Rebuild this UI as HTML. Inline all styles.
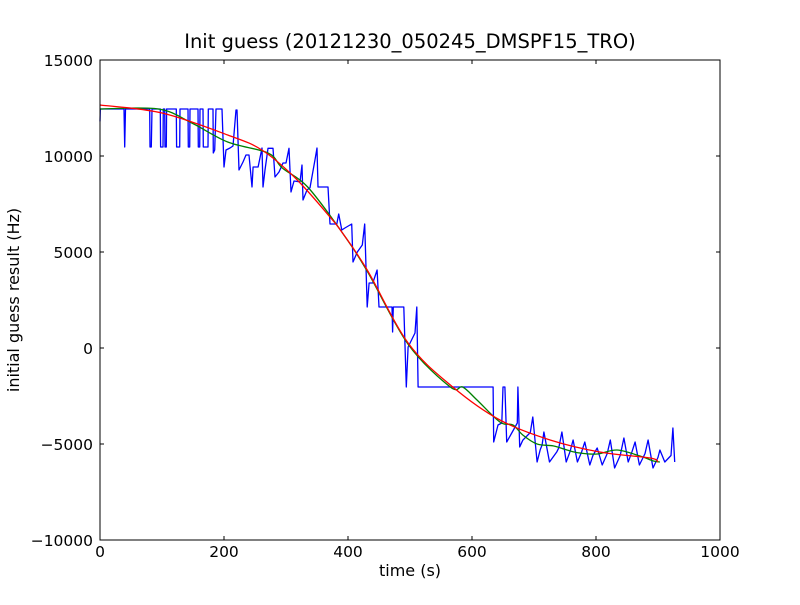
<!DOCTYPE html>
<html><head><meta charset="utf-8"><style>
body{margin:0;background:#fff;}
svg text{font-family:"DejaVu Sans","Liberation Sans",sans-serif;fill:#000;}
</style></head><body>
<svg id="chart" width="800" height="600">
<rect width="800" height="600" fill="#fff"/>
<text x="410" y="48" font-size="19.5" text-anchor="middle">Init guess (20121230_050245_DMSPF15_TRO)</text>
<text x="410" y="576" font-size="16" text-anchor="middle">time (s)</text>
<text x="19" y="300" font-size="16" text-anchor="middle" transform="rotate(-90 19 300)">initial guess result (Hz)</text>
<g id="ticks"></g>
<g id="series"></g>
<rect x="100" y="60" width="620" height="480" fill="none" stroke="#000" stroke-width="1"/>
</svg>
<script>
const xTicks=[0,200,400,600,800,1000];
const yTicks=[-10000,-5000,0,5000,10000,15000];
const yTickLabels=["\u221210000","\u22125000","0","5000","10000","15000"];
const blueT=[0,0.5,38.7,39.8,41.1,80.2,80.6,82.7,83.9,97.3,97.7,101.6,102.1,104.4,104.8,106.9,107.4,123.1,123.5,128.5,129,141.9,142.4,144.7,145.2,158.1,158.5,160.8,161.3,166.1,166.6,174.2,174.7,182.3,182.7,185,187.1,196.8,200,203.2,209.7,214.5,219.4,221,224.2,230.6,235.5,240.3,245.2,247,255,261.3,262.9,266.1,271,279,282.3,288.7,295.2,300,304.8,308.1,312.9,322.6,325.8,327.4,333.9,338.7,346.8,350,351.6,367.7,371,382,385,390,395,406,408,415,423,427,431,434,440,447,450,471,472,473,474,490,494,497,508,511,513,634,635,642,648,650,653,656,665,673,674,677,682,694,698,705,710,713,716,725,737,740,745,752,758,763,770,777,782,790,795,802,810,818,823,830,839,845,852,858,863,870,879,884,892,900,903,911,921,924,927];
const blueV=[11800,12448,12448,10469,12448,12448,10469,10469,12448,12448,10469,10469,12448,12448,10469,10469,12448,12448,10469,10469,12448,12448,10469,10469,12448,12448,10469,10469,12448,12448,10469,10469,12448,12448,10156,10313,12448,12448,9427,10313,10417,10521,12396,12396,9271,9688,10052,10052,8385,9427,9427,10417,8385,9271,10400,10400,8906,9167,9635,9635,10400,8125,8700,8650,9531,7708,8229,8350,9800,10417,8385,8385,6458,6458,6979,6146,6250,6458,4480,5000,5365,6458,2135,3385,3385,4063,2135,2135,833,2135,2135,2135,-2031,52,781,2135,-2031,-2031,-4896,-4010,-3906,-2031,-2031,-4896,-4375,-3906,-2031,-5156,-4800,-4400,-3594,-5938,-5300,-5052,-4375,-5938,-5400,-5200,-4375,-5938,-5400,-4792,-5938,-5400,-4896,-6094,-5600,-5208,-6094,-5500,-4792,-6250,-5600,-4688,-5938,-5400,-4896,-6094,-5500,-4792,-6250,-5700,-5313,-5938,-5600,-4167,-5938,-5938];
const greenT=[0,94,148,206,271,294,335,390,431,497,565,585,608,645,666,682,705,731,753,774,802,834,871,892,903];
const greenV=[12450,12450,11720,10730,10156,9375,8385,6040,4000,200,-2031,-2031,-2708,-3854,-4010,-4531,-5000,-5100,-5313,-5470,-5520,-5313,-5625,-5880,-5938];
const redT=[0,100,206,261,315,371,390,431,497,569,645,726,806,887,900];
const redV=[12656,12240,11094,10313,8854,6823,6040,4063,260,-2031,-3750,-4792,-5417,-5729,-5938];
const NS='http://www.w3.org/2000/svg';
const xs=t=>100+t*0.62;
const ys=v=>540-(v+10000)*0.0192;
const tg=document.getElementById('ticks');
function mk(tag,attrs,parent){const e=document.createElementNS(NS,tag);for(const k in attrs)e.setAttribute(k,attrs[k]);parent.appendChild(e);return e;}
xTicks.forEach(t=>{
  const x=xs(t);
  const l1=mk('line',{x1:x,x2:x,y1:540,y2:536,stroke:'#000'},tg);
  
  
  const l2=mk('line',{x1:x,x2:x,y1:60,y2:64,stroke:'#000'},tg);
  
  
  const tx=mk('text',{x:x,y:557,'font-size':15.5,'text-anchor':'middle'},tg);
  tx.textContent=t;
  
  
});
yTicks.forEach((v,i)=>{
  const y=ys(v);
  const l1=mk('line',{x1:100,x2:104,y1:y,y2:y,stroke:'#000'},tg);
  
  
  const l2=mk('line',{x1:716,x2:720,y1:y,y2:y,stroke:'#000'},tg);
  
  
  const tx=mk('text',{x:93,y:y+6,'font-size':15.5,'text-anchor':'end'},tg);
  tx.textContent=yTickLabels[i];
  
  
});
const sg=document.getElementById('series');
function line(T,V,color,name,smooth){
  const P=T.map((t,i)=>[xs(t),ys(V[i])]);
  let d='M'+P[0][0].toFixed(1)+','+P[0][1].toFixed(1);
  for(let i=1;i<P.length;i++){
    if(!smooth){d+='L'+P[i][0].toFixed(1)+','+P[i][1].toFixed(1);continue;}
    const p0=P[Math.max(i-2,0)],p1=P[i-1],p2=P[i],p3=P[Math.min(i+1,P.length-1)];
    const c1=[p1[0]+(p2[0]-p0[0])/6,p1[1]+(p2[1]-p0[1])/6];
    const c2=[p2[0]-(p3[0]-p1[0])/6,p2[1]-(p3[1]-p1[1])/6];
    d+='C'+c1.map(n=>n.toFixed(1)).join(',')+' '+c2.map(n=>n.toFixed(1)).join(',')+' '+p2[0].toFixed(1)+','+p2[1].toFixed(1);
  }
  const p=mk('path',{d:d,fill:'none',stroke:color,'stroke-width':1.3,'stroke-linejoin':'round'},sg);
  
  
}
line(blueT,blueV,'#0000ff','raw-guess-line',false);
line(greenT,greenV,'#008000','smoothed-line',true);
line(redT,redV,'#ff0000','fit-line',true);
</script>
</body></html>
